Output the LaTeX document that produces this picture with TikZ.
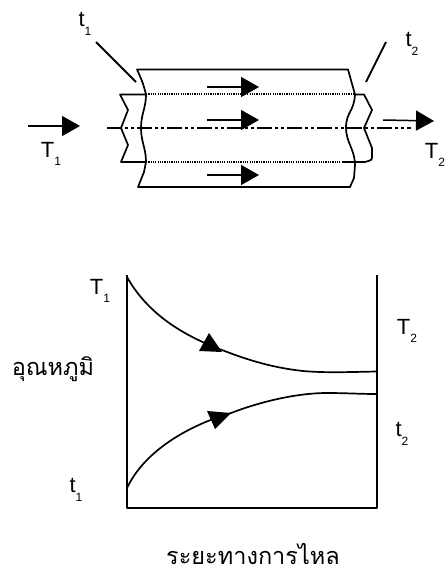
\documentclass[tikz,border=0pt]{standalone}
\usepackage{fontspec}
\setmainfont{Liberation Sans}
\newfontfamily\thaifont[Script=Thai]{Loma}
\usetikzlibrary{arrows.meta}
\newcommand{\lab}[2]{#1\raisebox{-.4em}{\fontsize{12}{12}\selectfont #2}}
\tikzset{
    tube line/.style={line width=1.7pt,line join=round},
    flow arrow/.style={line width=1.5pt,-{Triangle[length=18pt,width=20pt]}},
    sym label/.style={inner sep=0pt,font=\fontsize{22}{22}\selectfont},
    thai label/.style={inner sep=0pt,font=\thaifont\fontsize{23.5}{24}\selectfont}
}

\begin{document}
\begin{tikzpicture}[x=1pt,y=-1pt]
\useasboundingbox (0,0) rectangle (447,575);
% tube
\coordinate (tl) at (137,69.5);
\coordinate (tr) at (348,69.5);
\coordinate (bl) at (138,187);
\coordinate (br) at (350,187);
\coordinate (in_tl) at (120,94.5);
\coordinate (in_bl) at (121,162);
\coordinate (in_tr) at (364,94.5);
\coordinate (in_br) at (365,162);
\coordinate (wall_tl) at (146,94.5);
\coordinate (wall_bl) at (146,162);
\coordinate (wall_tr) at (355,94.5);
\coordinate (wall_br) at (343,162);
\draw[tube line] (wall_tl) .. controls (143,83) .. (tl) -- (tr) -- (wall_tr)
    .. controls (354,112) and (346,112) .. (346,128)
    .. controls (346,142) and (355,150) .. (355,165) -- (354,178) -- (br) -- (bl)
    -- (144,172) -- (wall_bl)
    .. controls (146,148) and (141,142) .. (141,128)
    .. controls (141,114) and (146,108) .. (wall_tl);
\draw[tube line] (wall_tl) -- (in_tl) -- (128,110) -- (121,128) -- (128,145) -- (in_bl) -- (wall_bl);
\draw[tube line] (wall_tr) -- (in_tr) -- (372,110) -- (364,128) -- (372,148) -- (372,156)
    .. controls (372,160) .. (in_br) -- (wall_br);
\draw[line width=2pt,dash pattern=on 1.2pt off 1.1pt] (wall_tl) -- (wall_tr);
\draw[line width=2pt,dash pattern=on 1.2pt off 1.1pt] (wall_bl) -- (wall_br);
\coordinate (axis_a) at (107,128);
\coordinate (axis_b) at (411,128);
\draw[line width=1.7pt,dash pattern=on 15pt off 3pt on 3pt off 3pt on 3pt off 3pt] (axis_a) -- (axis_b);
% arrows
\foreach \i/\xa/\ya/\xb/\yb in {a/207/87/259/87,b/207/120/259/120,c/207/175/259/175,d/28/126/80/126,e/383/120/434/121}{
    \coordinate (from_\i) at (\xa,\ya);
    \coordinate (to_\i) at (\xb,\yb);
    \draw[flow arrow] (from_\i) -- (to_\i);
}
% leaders
\coordinate (lead_a) at (96,42);
\coordinate (lead_b) at (136,82);
\coordinate (lead_c) at (386,42);
\coordinate (lead_d) at (366,82);
\draw[line width=2pt] (lead_a) -- (lead_b);
\draw[line width=2pt] (lead_c) -- (lead_d);
\node[sym label] (t_one) at (85,24) {\lab{t}{1}};
\node[sym label] (t_two) at (412,44) {\lab{t}{2}};
\node[sym label] (T_one) at (51,154) {\lab{T}{1}};
\node[sym label] (T_two) at (435,155) {\lab{T}{2}};
% graph
\coordinate (g_tl) at (127,275);
\coordinate (g_bl) at (127,508);
\coordinate (g_br) at (377,508);
\coordinate (g_tr) at (377,275);
\draw[tube line] (g_tl) -- (g_bl) -- (g_br) -- (g_tr);
\draw[tube line] (127,277) .. controls (150,318) and (190,338) .. (222,350)
    .. controls (250,361) and (275,368) .. (303,371) .. controls (325,373) and (350,372) .. (377,371.5);
\draw[tube line] (127,488) .. controls (145,450) and (190,425) .. (231,413)
    .. controls (265,400) and (300,393) .. (327,393) .. controls (345,393) and (360,394) .. (377,394);
\fill (209,333) -- (199,351) -- (222,352) -- cycle;
\fill (207,411) -- (231,413) -- (215,429) -- cycle;
\node[sym label] (g_T_one) at (100,291) {\lab{T}{1}};
\node[sym label] (g_T_two) at (407,331) {\lab{T}{2}};
\node[sym label] (g_t_one) at (76,490) {\lab{t}{1}};
\node[sym label] (g_t_two) at (402,434) {\lab{t}{2}};
\node[thai label] (temp) at (53,369) {อุณหภูมิ};
\node[thai label] (dist) at (253,554) {ระยะทางการไหล};
\end{tikzpicture}
\end{document}
